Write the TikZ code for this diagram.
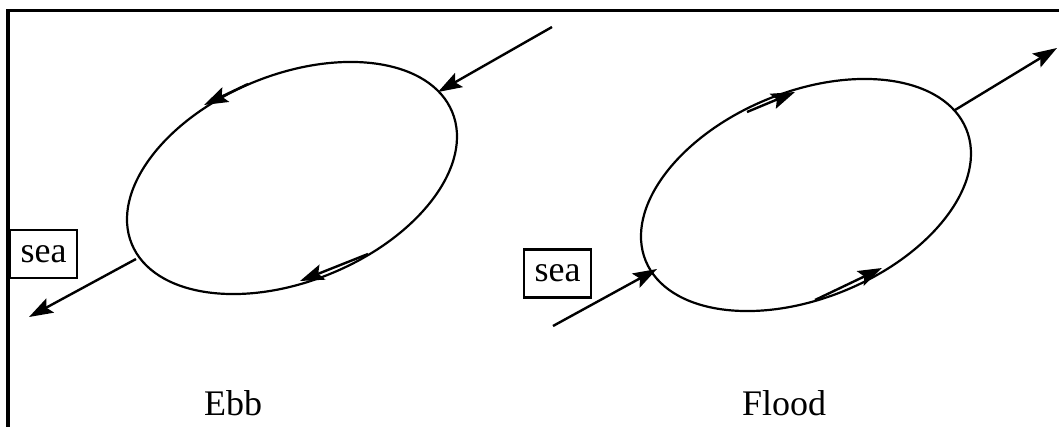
\documentclass[tikz,border=0pt]{standalone}
\usepackage{fontspec}
\setmainfont{Liberation Serif}
\usetikzlibrary{arrows.meta}

\begin{document}
\begin{tikzpicture}[
  x=0.5pt, y=0.5pt,
  font=\fontsize{18}{21}\selectfont,
  >={Stealth[length=12pt,width=8pt,inset=2.2pt]},
  gyre/.style={line width=1.1pt},
  flow/.style={->, line width=1.2pt},
  seabox/.style={draw, line width=1.1pt, minimum width=33.5pt, minimum height=24pt, inner sep=0pt},
  caption/.style={anchor=base},
]
\useasboundingbox (0,0) rectangle (1059,-427);

% ---------------- frame (top and left only)
\draw[line width=1.6pt] (8,-427) -- (8,-10.5) -- (1059,-10.5);

% ---------------- the two loops
\coordinate (cE) at (292,-178);
\coordinate (cF) at (806,-195);
\foreach \c in {cE, cF}
  \draw[gyre, rotate around={22.4:(\c)}] (\c) ellipse [x radius=173.3, y radius=103.2];

% ---------------- ebb
\node[seabox] (seaE) at (43.5,-254) {sea};

\coordinate (e1) at (552,-27);  \coordinate (e1t) at (438,-92);
\coordinate (e2) at (248,-84);  \coordinate (e2t) at (204,-105);
\coordinate (e3) at (368,-254); \coordinate (e3t) at (300,-281);
\coordinate (e4) at (136,-259); \coordinate (e4t) at (29,-317);
\foreach \i/\j in {e1/e1t, e2/e2t, e3/e3t, e4/e4t} \draw[flow] (\i) -- (\j);

\node[caption] (ebb) at (233,-415) {Ebb};

% ---------------- flood
\node[seabox] (seaF) at (557.5,-273.5) {sea};

\coordinate (f1) at (553,-326); \coordinate (f1t) at (657,-269);
\coordinate (f2) at (747,-112); \coordinate (f2t) at (795,-92);
\coordinate (f3) at (955,-110); \coordinate (f3t) at (1057,-48);
\coordinate (f4) at (815,-300); \coordinate (f4t) at (882,-268);
\foreach \i/\j in {f1/f1t, f2/f2t, f3/f3t, f4/f4t} \draw[flow] (\i) -- (\j);

\node[caption] (flood) at (784,-415) {Flood};

\end{tikzpicture}
\end{document}
